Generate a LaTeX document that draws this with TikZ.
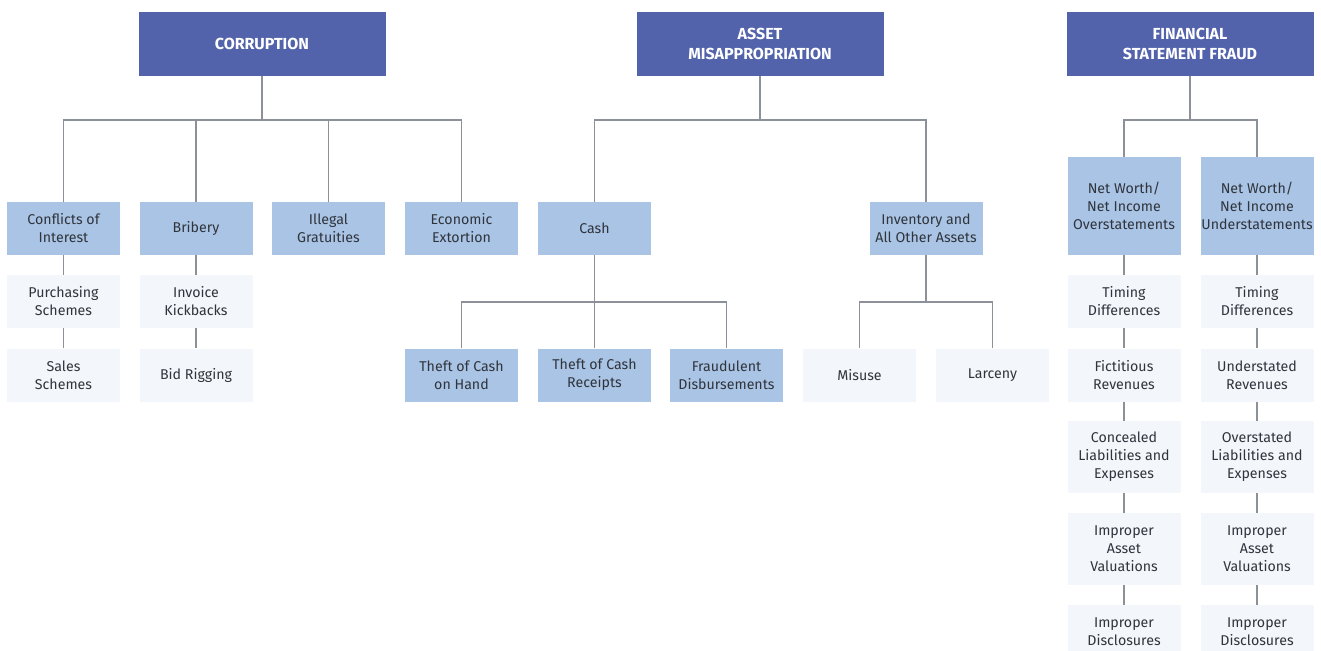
\documentclass[tikz,border=0pt]{standalone}
\usepackage{fontspec}
\setmainfont{Fira Sans}
\begin{document}
\begin{tikzpicture}[x=1pt,y=-1pt,
  every node/.style={inner sep=0pt, align=center, text=txtc, font=\fontsize{14.2}{18}\selectfont},
  headbox/.style={fill=headblue, text=white, minimum width=247, minimum height=64, font=\bfseries\fontsize{16}{19.5}\selectfont},
  midbox/.style={fill=midblue, minimum width=113, minimum height=53},
  leafbox/.style={fill=leafbg, minimum width=113, minimum height=53},
  conn/.style={draw=connc, line width=1.1pt}]
\definecolor{headblue}{HTML}{5262AB}
\definecolor{midblue}{HTML}{A9C4E4}
\definecolor{leafbg}{HTML}{F3F6FA}
\definecolor{connc}{HTML}{8C9098}
\definecolor{txtc}{HTML}{30343C}
\useasboundingbox (0,0) rectangle (1321,650);
\clip (0,0) rectangle (1321,650);
\fill[white] (0,0) rectangle (1321,650);
\coordinate (busA) at (0,120);
\coordinate (busB) at (0,302);
% headers
\node[headbox] (corr) at (262,44) {CORRUPTION};
\node[headbox] (asset) at (760,44) {ASSET\\MISAPPROPRIATION};
\node[headbox] (fsf) at (1190,44) {FINANCIAL\\STATEMENT FRAUD};
% corruption
\node[midbox] (coi) at (63.5,228.5) {Conflicts of\\Interest};
\node[midbox] (brib) at (196,228.5) {Bribery};
\node[midbox] (ill) at (328.5,228.5) {Illegal\\Gratuities};
\node[midbox] (eco) at (461.5,228.5) {Economic\\Extortion};
\node[leafbox] (purch) at (63.5,301.5) {Purchasing\\Schemes};
\node[leafbox] (sales) at (63.5,375) {Sales\\Schemes};
\node[leafbox] (inv) at (196,301.5) {Invoice\\Kickbacks};
\node[leafbox] (bid) at (196,375) {Bid Rigging};
% asset
\node[midbox] (cash) at (594.5,228.5) {Cash};
\node[midbox] (invent) at (926,228.5) {Inventory and\\All Other Assets};
\node[midbox] (tch) at (461.5,375) {Theft of Cash\\on Hand};
\node[midbox] (tcr) at (594.5,375) {Theft of Cash\\Receipts};
\node[midbox] (fd) at (726.5,375) {Fraudulent\\Disbursements};
\node[leafbox] (mis) at (859.5,375) {Misuse};
\node[leafbox] (lar) at (992.5,375) {Larceny};
% fsf
\node[midbox, minimum height=98] (over) at (1124,206) {Net Worth/\\Net Income\\Overstatements};
\node[midbox, minimum height=98] (under) at (1257,206) {Net Worth/\\Net Income\\Understatements};
\node[leafbox] (o1) at (1124,301.5) {Timing\\Differences};
\node[leafbox] (o2) at (1124,375) {Fictitious\\Revenues};
\node[leafbox, minimum height=72] (o3) at (1124,457) {Concealed\\Liabilities and\\Expenses};
\node[leafbox, minimum height=72] (o4) at (1124,549) {Improper\\Asset\\Valuations};
\node[leafbox, minimum height=72] (o5) at (1124,641) {Improper\\Disclosures\\ };
\node[leafbox] (u1) at (1257,301.5) {Timing\\Differences};
\node[leafbox] (u2) at (1257,375) {Understated\\Revenues};
\node[leafbox, minimum height=72] (u3) at (1257,457) {Overstated\\Liabilities and\\Expenses};
\node[leafbox, minimum height=72] (u4) at (1257,549) {Improper\\Asset\\Valuations};
\node[leafbox, minimum height=72] (u5) at (1257,641) {Improper\\Disclosures\\ };
% connectors: corruption
\draw[conn] (corr.south) -- (corr.south |- busA);
\draw[conn] (coi.north) -- (coi.north |- busA) -- (eco.north |- busA) -- (eco.north);
\draw[conn] (brib.north) -- (brib.north |- busA);
\draw[conn] (ill.north) -- (ill.north |- busA);
\draw[conn] (coi.south) -- (purch.north);
\draw[conn] (purch.south) -- (sales.north);
\draw[conn] (brib.south) -- (inv.north);
\draw[conn] (inv.south) -- (bid.north);
% asset
\draw[conn] (asset.south) -- (asset.south |- busA);
\draw[conn] (cash.north) -- (cash.north |- busA) -- (invent.north |- busA) -- (invent.north);
\draw[conn] (cash.south) -- (tcr.north);
\draw[conn] (tch.north) -- (tch.north |- busB) -- (fd.north |- busB) -- (fd.north);
\draw[conn] (invent.south) -- (invent.south |- busB);
\draw[conn] (mis.north) -- (mis.north |- busB) -- (lar.north |- busB) -- (lar.north);
% fsf
\draw[conn] (fsf.south) -- (fsf.south |- busA);
\draw[conn] (over.north) -- (over.north |- busA) -- (under.north |- busA) -- (under.north);
\foreach \c in {o,u}{
  \draw[conn] (\c1.south) -- (\c2.north);
  \draw[conn] (\c2.south) -- (\c3.north);
  \draw[conn] (\c3.south) -- (\c4.north);
  \draw[conn] (\c4.south) -- (\c5.north);
}
\draw[conn] (over.south) -- (o1.north);
\draw[conn] (under.south) -- (u1.north);
\end{tikzpicture}
\end{document}
